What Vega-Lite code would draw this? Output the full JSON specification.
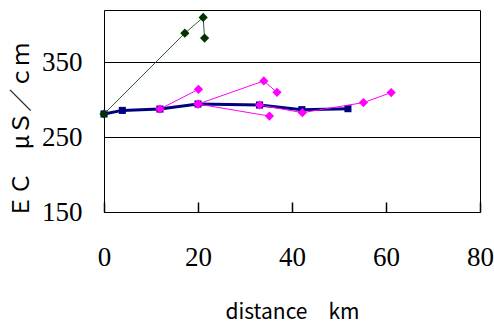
{
  "$schema": "https://vega.github.io/schema/vega-lite/v6.json",
  "autosize": "none",
  "width": 376,
  "height": 202,
  "padding": {"left": 104, "top": 10, "right": 14, "bottom": 115},
  "background": "white",
  "config": {
    "view": {"stroke": "black", "strokeWidth": 1},
    "axis": {"labelColor": "black", "titleColor": "black", "domain": false}
  },
  "data": {
    "values": [
      {"series": "navy", "x": 0, "y": 281},
      {"series": "navy", "x": 3.9, "y": 285.8},
      {"series": "navy", "x": 11.9, "y": 287.6},
      {"series": "navy", "x": 20.0, "y": 294.3},
      {"series": "navy", "x": 33.1, "y": 293},
      {"series": "navy", "x": 42.1, "y": 286.8},
      {"series": "navy", "x": 51.9, "y": 288.1},
      {"series": "m1", "x": 11.9, "y": 287.6},
      {"series": "m1", "x": 20.1, "y": 314},
      {"series": "m2", "x": 20.0, "y": 294.3},
      {"series": "m2", "x": 34.0, "y": 325.2},
      {"series": "m2", "x": 36.8, "y": 310},
      {"series": "m3", "x": 20.0, "y": 294.3},
      {"series": "m3", "x": 35.2, "y": 278.2},
      {"series": "m4", "x": 33.1, "y": 293},
      {"series": "m4", "x": 42.2, "y": 282.8},
      {"series": "m4", "x": 55.2, "y": 296.2},
      {"series": "m4", "x": 61.1, "y": 309.6},
      {"series": "green", "x": 0, "y": 281},
      {"series": "green", "x": 17.2, "y": 389},
      {"series": "green", "x": 21.1, "y": 410},
      {"series": "green", "x": 21.4, "y": 382.5}
    ]
  },
  "encoding": {
    "x": {
      "field": "x", "type": "quantitative",
      "scale": {"domain": [0, 80], "nice": false, "zero": false},
      "axis": {
        "values": [0, 20, 40, 60, 80], "grid": false, "offset": -10,
        "ticks": true, "tickSize": 10, "tickColor": "#000000", "tickWidth": 1.5,
        "tickOpacity": 1, "tickCap": "butt", "zindex": 1,
        "labelFont": "Liberation Sans Narrow", "labelFontSize": 27,
        "labelPadding": 32, "labelFlush": false,
        "title": "distance　km", "titleFont": "Noto Sans CJK JP",
        "titleFontSize": 21, "titleFontWeight": "normal",
        "titleBaseline": "alphabetic", "titleY": 116
      }
    },
    "y": {
      "field": "y", "type": "quantitative",
      "scale": {"domain": [150, 420], "nice": false, "zero": false},
      "axis": {
        "values": [150, 250, 350], "grid": true, "gridColor": "black",
        "gridWidth": 1, "gridOpacity": 1, "ticks": false,
        "labelFont": "Liberation Sans Narrow", "labelFontSize": 27,
        "labelPadding": 22,
        "title": "ＥＣ　μＳ／ｃｍ", "titleFont": "Noto Sans CJK JP",
        "titleFontSize": 23, "titleFontWeight": "normal",
        "titleAlign": "center", "titleBaseline": "middle",
        "titleAngle": -90, "titleX": -83, "titleY": 120
      }
    }
  },
  "layer": [
    {
      "transform": [{"filter": "datum.series === 'navy'"}],
      "mark": {"type": "line", "color": "#000080", "strokeWidth": 3}
    },
    {
      "transform": [{"filter": "datum.series === 'navy'"}],
      "mark": {"type": "point", "shape": "square", "filled": true, "color": "#000080", "size": 50, "opacity": 1}
    },
    {
      "transform": [{"filter": "datum.series !== 'navy' && datum.series !== 'green'"}],
      "mark": {"type": "line", "color": "#FF00FF", "strokeWidth": 1},
      "encoding": {"detail": {"field": "series"}}
    },
    {
      "transform": [{"filter": "datum.series !== 'navy' && datum.series !== 'green'"}],
      "mark": {"type": "point", "shape": "diamond", "filled": true, "color": "#FF00FF", "size": 85, "opacity": 1}
    },
    {
      "transform": [{"filter": "datum.series === 'green'"}],
      "mark": {"type": "line", "color": "#2E5E2E", "strokeWidth": 1}
    },
    {
      "transform": [{"filter": "datum.series === 'green'"}],
      "mark": {"type": "point", "shape": "diamond", "filled": true, "color": "#003300", "size": 85, "opacity": 1}
    }
  ]
}
